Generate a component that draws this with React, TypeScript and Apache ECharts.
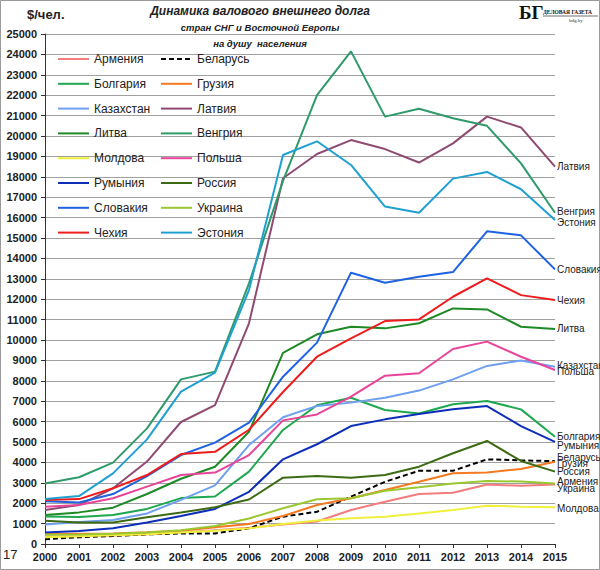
import { useEffect, useRef } from "react";
import * as echarts from "echarts";

const years = ["2000", "2001", "2002", "2003", "2004", "2005", "2006", "2007", "2008", "2009", "2010", "2011", "2012", "2013", "2014", "2015"];

const armenia = [350, 380, 420, 480, 560, 680, 800, 950, 1100, 1670, 2070, 2450, 2510, 2920, 2850, 2920];
const belarus = [230, 330, 390, 470, 520, 520, 770, 1340, 1580, 2320, 3050, 3590, 3590, 4150, 4100, 4060];
const bulgaria = [1350, 1320, 1420, 1720, 2250, 2330, 3550, 5590, 6800, 7170, 6570, 6400, 6850, 7010, 6600, 5260];
const georgia = [480, 500, 520, 570, 650, 820, 980, 1370, 1910, 2240, 2650, 3050, 3470, 3500, 3680, 4030];
const kazakhstan = [960, 1080, 1180, 1500, 2160, 2870, 4850, 6210, 6770, 6930, 7170, 7520, 8070, 8730, 9000, 8690];
const latvia = [1670, 1910, 2730, 4040, 5980, 6810, 10820, 17930, 19120, 19800, 19360, 18700, 19640, 20950, 20420, 18500];
const lithuania = [1420, 1550, 1780, 2450, 3200, 3790, 5500, 9370, 10280, 10650, 10570, 10820, 11550, 11500, 10650, 10540];
const hungary = [2970, 3270, 3990, 5670, 8070, 8450, 12780, 17800, 22000, 24150, 20950, 21340, 20870, 20500, 18660, 16240];
const moldova = [330, 380, 430, 480, 560, 650, 770, 980, 1150, 1260, 1340, 1500, 1670, 1880, 1830, 1800];
const poland = [1830, 1910, 2240, 2810, 3380, 3500, 4360, 6060, 6350, 7220, 8250, 8370, 9560, 9920, 9180, 8530];
const romania = [560, 640, 770, 1050, 1370, 1720, 2560, 4150, 4890, 5780, 6110, 6370, 6600, 6760, 5780, 5010];
const russia = [1140, 1050, 1050, 1310, 1540, 1800, 2180, 3250, 3330, 3250, 3380, 3790, 4450, 5050, 4070, 3550];
const slovakia = [2100, 2030, 2450, 3330, 4360, 4970, 5950, 8200, 9870, 13300, 12810, 13100, 13330, 15330, 15130, 13460];
const ukraine = [450, 470, 500, 560, 680, 880, 1250, 1750, 2190, 2240, 2610, 2780, 2970, 3090, 3060, 2970];
const czech = [2160, 2200, 2730, 3380, 4410, 4520, 5600, 7450, 9180, 10080, 10930, 11010, 12120, 13020, 12200, 11960];
const estonia = [2200, 2350, 3460, 5130, 7470, 8400, 12450, 19070, 19740, 18580, 16540, 16240, 17910, 18240, 17390, 15880];

// name, values, colour, dashed, end label offset
const countries: Array<[string, number[], string, boolean, number]> = [
  ["Армения", armenia, "#f47c7c", false, -3],
  ["Беларусь", belarus, "#000000", true, -4],
  ["Болгария", bulgaria, "#1fa84f", false, 0],
  ["Грузия", georgia, "#f47920", false, 2],
  ["Казахстан", kazakhstan, "#6f9ff0", false, -1],
  ["Латвия", latvia, "#904a72", false, 0],
  ["Литва", lithuania, "#1e8a25", false, 0],
  ["Венгрия", hungary, "#2f9a6a", false, -1],
  ["Молдова", moldova, "#f0f03c", false, 1],
  ["Польша", poland, "#e8449a", false, 2],
  ["Румыния", romania, "#0d2fb8", false, 4],
  ["Россия", russia, "#3d6b14", false, 0],
  ["Словакия", slovakia, "#1e62e2", false, 0],
  ["Украина", ukraine, "#9bc731", false, 5],
  ["Чехия", czech, "#ee1c1c", false, 0],
  ["Эстония", estonia, "#1fa0d0", false, 2],
];

const font = "'Liberation Sans', Arial, sans-serif";

export default function App() {
  const ref = useRef<HTMLDivElement | null>(null);

  useEffect(() => {
    if (!ref.current) return;
    const chart = echarts.init(ref.current, undefined, { renderer: "svg" });

    const legendCommon = {
      orient: "vertical" as const,
      top: 53,
      padding: 0,
      itemWidth: 31,
      itemHeight: 14,
      itemGap: 12.8,
      itemStyle: { opacity: 0 },
      textStyle: { fontSize: 12, color: "#222", fontFamily: font },
    };

    chart.setOption({
      animation: false,
      backgroundColor: "#fff",
      grid: { left: 45, right: 45, top: 34, bottom: 26 },
      legend: [
        { ...legendCommon, left: 57, data: countries.filter((_, i) => i % 2 === 0).map((c) => c[0]) },
        { ...legendCommon, left: 160, data: countries.filter((_, i) => i % 2 === 1).map((c) => c[0]) },
      ],
      xAxis: {
        type: "category",
        data: years,
        boundaryGap: false,
        axisLine: { lineStyle: { color: "#333", width: 1 } },
        axisTick: { show: true, length: 4, lineStyle: { color: "#333" } },
        axisLabel: { fontSize: 11, fontWeight: "bold", color: "#222", fontFamily: font, margin: 7 },
      },
      yAxis: {
        type: "value",
        min: 0,
        max: 25000,
        interval: 1000,
        axisLine: { show: true, lineStyle: { color: "#333", width: 1 } },
        axisTick: { show: true, length: 4, lineStyle: { color: "#333" } },
        axisLabel: {
          fontSize: 11,
          fontWeight: "bold",
          color: "#222",
          fontFamily: font,
          margin: 8,
          formatter: (v: number) => String(v),
        },
        splitLine: { lineStyle: { color: "#a0a0a0", width: 1 } },
      },
      series: countries.map(([name, data, color, dashed, dy]) => ({
        name,
        type: "line",
        data,
        symbol: "none",
        color,
        lineStyle: { color, width: 2, type: dashed ? [5, 3] : "solid" },
        endLabel: {
          show: true,
          formatter: "{a}",
          fontSize: 10,
          color: "#222",
          fontFamily: font,
          distance: 2,
          offset: [0, dy],
        },
      })),
      graphic: [
        {
          type: "rect",
          shape: { x: 0.5, y: 0.5, width: 599, height: 569 },
          style: { fill: "none", stroke: "#9a9a9a", lineWidth: 1 },
          silent: true,
        },
        {
          type: "text",
          x: 27,
          y: 8,
          style: { text: "$/чел.", fill: "#222", font: `bold 13px ${font}` },
        },
        {
          type: "text",
          x: 260,
          y: 5,
          style: { text: "Динамика валового внешнего долга", textAlign: "center", fill: "#222", font: `italic bold 12px ${font}` },
        },
        {
          type: "text",
          x: 260,
          y: 22,
          style: { text: "стран СНГ и Восточной Европы", textAlign: "center", fill: "#222", font: `italic bold 9.5px ${font}` },
        },
        {
          type: "text",
          x: 260,
          y: 38,
          style: { text: "на душу  населения", textAlign: "center", fill: "#222", font: `italic bold 9.5px ${font}` },
        },
        {
          type: "text",
          x: 519,
          y: 3,
          style: { text: "БГ", fill: "#111", font: "bold 19px 'Liberation Serif', serif" },
        },
        {
          type: "text",
          x: 543,
          y: 9,
          style: { text: "ДЕЛОВАЯ ГАЗЕТА", fill: "#111", font: "bold 5.5px 'Liberation Serif', serif" },
        },
        {
          type: "line",
          shape: { x1: 543, y1: 16, x2: 598, y2: 16 },
          style: { stroke: "#111", lineWidth: 0.6 },
        },
        {
          type: "text",
          x: 569,
          y: 18,
          style: { text: "bdg.by", fill: "#333", font: "5px 'Liberation Serif', serif" },
        },
        {
          type: "text",
          x: 3,
          y: 548,
          style: { text: "17", fill: "#222", font: `13px ${font}` },
        },
      ],
    });

    return () => chart.dispose();
  }, []);

  return <div ref={ref} style={{ position: "fixed", left: 0, top: 0, width: 600, height: 570 }} />;
}
